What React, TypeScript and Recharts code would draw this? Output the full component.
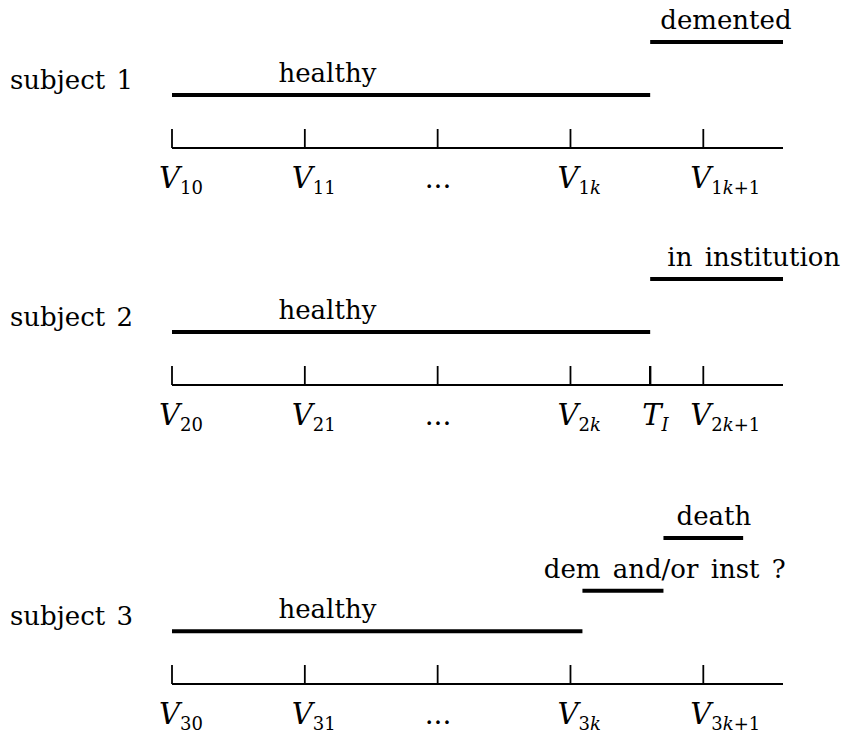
import React from 'react';
import { LineChart, Line, XAxis, YAxis, ReferenceDot } from 'recharts';

const FONT = 'DejaVu Serif, serif';

// time axis runs from the first visit (0) to a bit past visit k+1, in visit intervals
const axisDomain = [0, 4.6];

const ticks1 = [0, 1, 2, 3, 4];
const tickLabels1 = ['V_{10}', 'V_{11}', '...', 'V_{1k}', 'V_{1k+1}'];
const ticks2 = [0, 1, 2, 3, 3.6, 4];
const tickLabels2 = ['V_{20}', 'V_{21}', '...', 'V_{2k}', 'T_{I}', 'V_{2k+1}'];
const ticks3 = [0, 1, 2, 3, 4];
const tickLabels3 = ['V_{30}', 'V_{31}', '...', 'V_{3k}', 'V_{3k+1}'];

// state periods: start time, end time, level above the time axis
const states1 = [
  { from: 0, to: 3.6, level: 1 },
  { from: 3.6, to: 4.6, level: 2 },
];
const states2 = [
  { from: 0, to: 3.6, level: 1 },
  { from: 3.6, to: 4.6, level: 2 },
];
const states3 = [
  { from: 0, to: 3.09, level: 1 },
  { from: 3.09, to: 3.7, level: 1.77 },
  { from: 3.7, to: 4.3, level: 2.77 },
];

const stateLabels1 = [
  { text: 'healthy', t: 1.17, level: 1 },
  { text: 'demented', t: 4.17, level: 2 },
];
const stateLabels2 = [
  { text: 'healthy', t: 1.17, level: 1 },
  { text: 'in institution', t: 4.38, level: 2 },
];
const stateLabels3 = [
  { text: 'healthy', t: 1.17, level: 1 },
  { text: 'dem and/or inst ?', t: 3.71, level: 1.77 },
  { text: 'death', t: 4.08, level: 2.77 },
];

const textStyle = { fontFamily: FONT };

function MathLabel({ x, y, label }: { x: number; y: number; label: string }) {
  const m = label.match(/^(\w)_\{(.+)\}$/);
  if (!m) {
    return (
      <text x={x} y={y} style={textStyle} fontSize={28} fill="#000">
        {label}
      </text>
    );
  }
  const [, main, sub] = m;
  return (
    <text x={x} y={y} style={textStyle} fontSize={29} fill="#000">
      <tspan fontStyle="italic">{main}</tspan>
      <tspan fontSize={18} dy={6}>
        {sub.split('').map((c, i) => (
          <tspan key={i} fontStyle={/[a-zA-Z]/.test(c) ? 'italic' : 'normal'}>
            {c}
          </tspan>
        ))}
      </tspan>
    </text>
  );
}

function VisitTick(props: any) {
  const { x, y, payload, ticks, labels } = props;
  const label = labels[ticks.indexOf(payload.value)] ?? '';
  const isT = label.startsWith('T');
  return (
    <g>
      <line x1={x} x2={x} y1={y - 19} y2={y} stroke="#000" strokeWidth={isT ? 2.4 : 1.8} />
      <MathLabel x={x - (isT ? 8 : 13)} y={y + 40} label={label} />
    </g>
  );
}

interface PanelProps {
  top: number;
  height: number;
  marginTop: number;
  maxLevel: number;
  subject: string;
  ticks: number[];
  tickLabels: string[];
  states: { from: number; to: number; level: number }[];
  labels: { text: string; t: number; level: number }[];
}

function Panel({ top, height, marginTop, maxLevel, subject, ticks, tickLabels, states, labels }: PanelProps) {
  return (
    <div style={{ position: 'absolute', left: 0, top }}>
      <LineChart
        width={843}
        height={height}
        margin={{ top: marginTop, right: 60, left: 172, bottom: 0 }}
        style={{ overflow: 'visible' }}
      >
        <XAxis
          type="number"
          dataKey="t"
          domain={axisDomain}
          ticks={ticks}
          interval={0}
          height={60}
          tickSize={0}
          tickMargin={0}
          tickLine={false}
          axisLine={{ stroke: '#000', strokeWidth: 2 }}
          tick={(p: any) => <VisitTick {...p} ticks={ticks} labels={tickLabels} />}
        />
        <YAxis type="number" domain={[0, maxLevel]} hide />
        {states.map((s, i) => (
          <Line
            key={i}
            data={[
              { t: s.from, v: s.level },
              { t: s.to, v: s.level },
            ]}
            dataKey="v"
            stroke="#000"
            strokeWidth={4}
            strokeLinecap="butt"
            dot={false}
            activeDot={false}
            isAnimationActive={false}
          />
        ))}
        {labels.map((l, i) => (
          <ReferenceDot
            key={i}
            x={l.t}
            y={l.level}
            r={0}
            shape={(p: any) => (
              <text
                x={p.cx}
                y={p.cy - 13}
                textAnchor="middle"
                style={textStyle}
                fontSize={26}
                wordSpacing={4}
                fill="#000"
              >
                {l.text}
              </text>
            )}
          />
        ))}
        <ReferenceDot
          x={0}
          y={1}
          r={0}
          shape={(p: any) => (
            <text
              x={p.cx - 39}
              y={p.cy - 6}
              textAnchor="end"
              style={textStyle}
              fontSize={26}
              wordSpacing={3}
              fill="#000"
            >
              {subject}
            </text>
          )}
        />
      </LineChart>
    </div>
  );
}

export default function App() {
  return (
    <div style={{ position: 'absolute', left: 0, top: 0, width: 843, height: 734, background: '#fff' }}>
      <Panel
        top={0}
        height={208}
        marginTop={42}
        maxLevel={2}
        subject="subject 1"
        ticks={ticks1}
        tickLabels={tickLabels1}
        states={states1}
        labels={stateLabels1}
      />
      <Panel
        top={237}
        height={208}
        marginTop={42}
        maxLevel={2}
        subject="subject 2"
        ticks={ticks2}
        tickLabels={tickLabels2}
        states={states2}
        labels={stateLabels2}
      />
      <Panel
        top={490}
        height={254}
        marginTop={36}
        maxLevel={3}
        subject="subject 3"
        ticks={ticks3}
        tickLabels={tickLabels3}
        states={states3}
        labels={stateLabels3}
      />
    </div>
  );
}
